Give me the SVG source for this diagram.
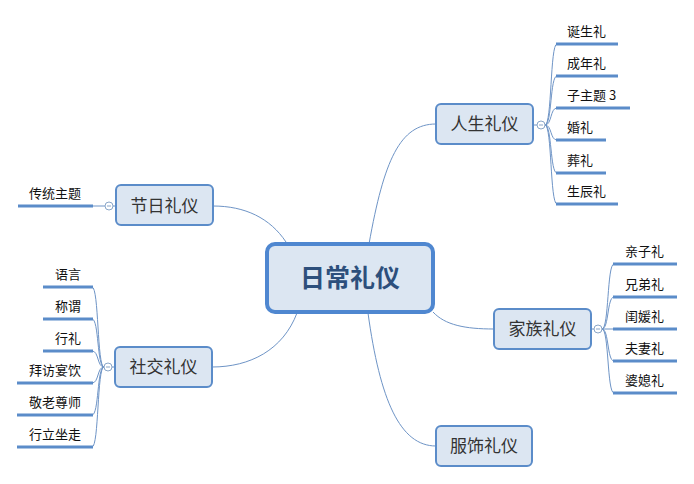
<svg xmlns="http://www.w3.org/2000/svg" width="694" height="484" viewBox="0 0 694 484">
<style>
.node rect{fill:#dce6f2;stroke:#5b8cc9;stroke-width:2}
.node text{font-family:"Noto Sans CJK SC","Noto Sans",sans-serif;font-size:17px;fill:#333;text-anchor:middle}
.conn path{fill:none;stroke:#6e94c6;stroke-width:1}
.bar{stroke:#5b8cc9;stroke-width:3}
.leaf{font-family:"Noto Sans CJK SC","Noto Sans",sans-serif;font-size:13px;fill:#111}
.r{text-anchor:end}
.tog circle{fill:#fff;stroke:#8aa6c8;stroke-width:1}
.tog line{stroke:#8aa6c8;stroke-width:1}
</style>
<rect width="694" height="484" fill="#fff"/>
<g id="connectors" class="conn">
<path d="M369,244 C384,160 400,124 436,124"/>
<path d="M213,206 C245,206 270,218 286,242"/>
<path d="M212,367 C250,367 283,350 297,313"/>
<path d="M433,312 C445,325 465,329 494,329"/>
<path d="M368,313 C380,400 400,446 436,446"/>
<path d="M533,125 L537,125"/>
<path d="M545,125 C552,125 550,44 557,44"/>
<path d="M545,125 C552,125 550,76 557,76"/>
<path d="M545,125 C552,125 550,108 557,108"/>
<path d="M545,125 C552,125 550,140 557,140"/>
<path d="M545,125 C552,125 550,173 557,173"/>
<path d="M545,125 C552,125 550,204 557,204"/>
<path d="M591,329 L594,329"/>
<path d="M602,329 C609,329 607,264 614,264"/>
<path d="M602,329 C609,329 607,297 614,297"/>
<path d="M602,329 L614,329"/>
<path d="M602,329 C609,329 607,361 614,361"/>
<path d="M602,329 C609,329 607,393 614,393"/>
<path d="M116,206 L113,206"/>
<path d="M105,206 L93,206"/>
<path d="M115,367 L112,367"/>
<path d="M104,367 C97,367 99,287 92,287"/>
<path d="M104,367 C97,367 99,319 92,319"/>
<path d="M104,367 C97,367 99,351 92,351"/>
<path d="M104,367 C97,367 99,383 92,383"/>
<path d="M104,367 C97,367 99,415 92,415"/>
<path d="M104,367 C97,367 99,447 92,447"/>
</g>
<g id="center">
<rect x="267" y="244" width="166" height="68" rx="8" fill="#dce6f2" stroke="#4f87d0" stroke-width="4"/>
<text x="350" y="287" font-family="'Noto Sans CJK SC','Noto Sans',sans-serif" font-size="25" font-weight="bold" fill="#2d4f7c" text-anchor="middle">日常礼仪</text>
</g>
<g id="rensheng" class="node">
<rect x="436" y="104" width="97" height="40" rx="5"/>
<text x="484.5" y="130">人生礼仪</text>
</g>
<g id="jieri" class="node">
<rect x="116" y="185" width="97" height="40" rx="5"/>
<text x="164.5" y="212">节日礼仪</text>
</g>
<g id="shejiao" class="node">
<rect x="115" y="347" width="97" height="40" rx="5"/>
<text x="163.5" y="373">社交礼仪</text>
</g>
<g id="jiazu" class="node">
<rect x="494" y="309" width="97" height="40" rx="5"/>
<text x="542.5" y="335">家族礼仪</text>
</g>
<g id="fushi" class="node">
<rect x="436" y="426" width="96" height="40" rx="5"/>
<text x="484" y="452">服饰礼仪</text>
</g>
<g id="toggles" class="tog">
<circle cx="541" cy="125" r="4"/><line x1="539" y1="125" x2="543" y2="125"/>
<circle cx="598" cy="329" r="4"/><line x1="596" y1="329" x2="600" y2="329"/>
<circle cx="109" cy="206" r="4"/><line x1="107" y1="206" x2="111" y2="206"/>
<circle cx="108" cy="367" r="4"/><line x1="106" y1="367" x2="110" y2="367"/>
</g>
<g id="rensheng-children">
<g id="dansheng"><line class="bar" x1="556" y1="44" x2="618" y2="44"/><text class="leaf" x="567" y="36">诞生礼</text></g>
<g id="chengnian"><line class="bar" x1="556" y1="76" x2="618" y2="76"/><text class="leaf" x="567" y="68">成年礼</text></g>
<g id="zizhuti3"><line class="bar" x1="556" y1="108" x2="630" y2="108"/><text class="leaf" x="567" y="100">子主题 3</text></g>
<g id="hunli"><line class="bar" x1="556" y1="140" x2="606" y2="140"/><text class="leaf" x="567" y="132">婚礼</text></g>
<g id="zangli"><line class="bar" x1="556" y1="173" x2="606" y2="173"/><text class="leaf" x="567" y="165">葬礼</text></g>
<g id="shengchen"><line class="bar" x1="556" y1="204" x2="618" y2="204"/><text class="leaf" x="567" y="196">生辰礼</text></g>
</g>
<g id="jiazu-children">
<g id="qinzi"><line class="bar" x1="613" y1="264" x2="677" y2="264"/><text class="leaf" x="625" y="256">亲子礼</text></g>
<g id="xiongdi"><line class="bar" x1="613" y1="297" x2="677" y2="297"/><text class="leaf" x="625" y="289">兄弟礼</text></g>
<g id="guiyuan"><line class="bar" x1="613" y1="329" x2="677" y2="329"/><text class="leaf" x="625" y="321">闺媛礼</text></g>
<g id="fuqi"><line class="bar" x1="613" y1="361" x2="677" y2="361"/><text class="leaf" x="625" y="353">夫妻礼</text></g>
<g id="poxi"><line class="bar" x1="613" y1="393" x2="677" y2="393"/><text class="leaf" x="625" y="385">婆媳礼</text></g>
</g>
<g id="jieri-children">
<g id="chuantong"><line class="bar" x1="18" y1="206" x2="93" y2="206"/><text class="leaf r" x="81" y="198">传统主题</text></g>
</g>
<g id="shejiao-children">
<g id="yuyan"><line class="bar" x1="43" y1="287" x2="93" y2="287"/><text class="leaf r" x="81" y="279">语言</text></g>
<g id="chengwei"><line class="bar" x1="43" y1="319" x2="93" y2="319"/><text class="leaf r" x="81" y="311">称谓</text></g>
<g id="xingli"><line class="bar" x1="43" y1="351" x2="93" y2="351"/><text class="leaf r" x="81" y="343">行礼</text></g>
<g id="baifang"><line class="bar" x1="17" y1="383" x2="93" y2="383"/><text class="leaf r" x="81" y="375">拜访宴饮</text></g>
<g id="jinglao"><line class="bar" x1="17" y1="415" x2="93" y2="415"/><text class="leaf r" x="81" y="407">敬老尊师</text></g>
<g id="xingli2"><line class="bar" x1="17" y1="447" x2="93" y2="447"/><text class="leaf r" x="81" y="439">行立坐走</text></g>
</g>
</svg>
